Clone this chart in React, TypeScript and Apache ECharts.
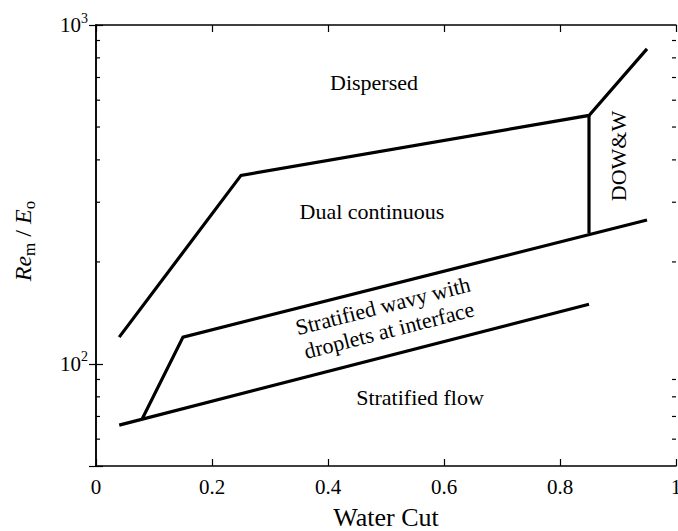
import React, { useEffect, useRef } from "react";
import * as echarts from "echarts";

// Flow-regime boundaries: [water cut, Re_m / E_o]
const upperBoundary: [number, number][] = [
  [0.04, 120],
  [0.25, 360],
  [0.85, 541],
  [0.95, 850],
];
const dowwBoundary: [number, number][] = [
  [0.85, 541],
  [0.85, 243],
];
const wavyBoundary: [number, number][] = [
  [0.08, 69],
  [0.15, 120],
  [0.95, 266],
];
const stratifiedBoundary: [number, number][] = [
  [0.04, 66],
  [0.85, 150],
];

// Log-axis minor tick positions
const minorTicks = [60, 70, 80, 90, 200, 300, 400, 500, 600, 700, 800, 900];

const xTicks = [0, 0.2, 0.4, 0.6, 0.8, 1];
const yDecades = [100, 1000];

const SERIF = "Liberation Serif";

export default function App() {
  const ref = useRef<HTMLDivElement>(null);

  useEffect(() => {
    if (!ref.current) return;
    const chart = echarts.init(ref.current, undefined, { renderer: "svg" });

    const lineSeries = (data: [number, number][]) => ({
      type: "line",
      data,
      symbol: "none",
      silent: true,
      lineStyle: { color: "#000", width: 3.2, join: "miter" },
    });

    const axisLine = { show: true, lineStyle: { color: "#000", width: 1.5 } };
    const tick = { inside: true, length: 7, lineStyle: { color: "#000", width: 1.2 } };

    const regionText = (text: string, x: number, y: number, rotation = 0, extra: any = {}) => ({
      type: "text",
      x,
      y,
      rotation,
      style: {
        text,
        fontFamily: SERIF,
        fontSize: 22,
        fill: "#000",
        align: "center",
        verticalAlign: "middle",
        ...extra,
      },
    });

    chart.setOption({
      animation: false,
      backgroundColor: "#fff",
      textStyle: { fontFamily: SERIF },
      grid: { left: 96, right: 2, top: 25, bottom: 65, outerBoundsMode: "none", containLabel: false },
      xAxis: [
        {
          type: "value",
          position: "bottom",
          min: 0,
          max: 1,
          interval: 0.2,
          axisLine,
          splitLine: { show: false },
          axisTick: tick,
          axisLabel: {
            color: "#000",
            fontFamily: SERIF,
            fontSize: 21,
            margin: 10,
            formatter: (v: number) =>
              xTicks.includes(v) ? (v === 0 || v === 1 ? String(v) : v.toFixed(1)) : "",
          },
          name: "Water Cut",
          nameLocation: "middle",
          nameGap: 38,
          nameTextStyle: { color: "#000", fontFamily: SERIF, fontSize: 26 },
        },
        {
          type: "value",
          position: "top",
          min: 0,
          max: 1,
          interval: 0.2,
          axisLine,
          splitLine: { show: false },
          axisTick: tick,
          axisLabel: { show: false },
        },
      ],
      yAxis: [
        {
          type: "log",
          logBase: 10,
          position: "left",
          min: 50,
          max: 1000,
          axisLine,
          splitLine: { show: false },
          axisTick: tick,
          axisLabel: {
            color: "#000",
            fontFamily: SERIF,
            margin: 8,
            formatter: (v: number) => {
              const d = yDecades.indexOf(Math.round(v));
              return d >= 0 ? `{b|10}{s|${Math.round(Math.log10(yDecades[d]))}}` : "";
            },
            rich: {
              b: { fontFamily: SERIF, fontSize: 21, color: "#000", lineHeight: 28 },
              s: { fontFamily: SERIF, fontSize: 14, color: "#000", verticalAlign: "top", lineHeight: 14 },
            },
          },
        },
        {
          type: "log",
          logBase: 10,
          position: "right",
          min: 50,
          max: 1000,
          axisLine,
          splitLine: { show: false },
          axisTick: tick,
          axisLabel: { show: false },
        },
      ],
      series: [
        lineSeries(upperBoundary),
        lineSeries(dowwBoundary),
        lineSeries(wavyBoundary),
        lineSeries(stratifiedBoundary),
        {
          type: "custom",
          silent: true,
          clip: false,
          z: 5,
          data: minorTicks.map((v) => [0, v]),
          renderItem: (params: any, api: any) => {
            const pt = api.coord([0, api.value(1)]);
            const cs = params.coordSys;
            return {
              type: "group",
              children: [
                {
                  type: "line",
                  shape: { x1: cs.x, y1: pt[1], x2: cs.x + 4, y2: pt[1] },
                  style: { stroke: "#000", lineWidth: 1.2 },
                },
                {
                  type: "line",
                  shape: { x1: cs.x + cs.width, y1: pt[1], x2: cs.x + cs.width - 4, y2: pt[1] },
                  style: { stroke: "#000", lineWidth: 1.2 },
                },
              ],
            };
          },
        },
      ],
      graphic: [
        {
          type: "text",
          x: 23,
          y: 241,
          rotation: Math.PI / 2,
          style: {
            text: "{i|Re}{sub|m}{n| / }{i|E}{sub|o}",
            align: "center",
            verticalAlign: "middle",
            rich: {
              i: { fontFamily: SERIF, fontStyle: "italic", fontSize: 24, fill: "#000", lineHeight: 30 },
              n: { fontFamily: SERIF, fontSize: 24, fill: "#000", lineHeight: 30 },
              sub: { fontFamily: SERIF, fontSize: 17, fill: "#000", verticalAlign: "bottom", lineHeight: 17 },
            },
          },
        },
        regionText("Dispersed", 374, 82),
        regionText("Dual continuous", 372, 211),
        regionText("Stratified wavy with\ndroplets at interface", 386, 318, 0.25, { lineHeight: 25 }),
        regionText("Stratified flow", 420, 397),
        regionText("DOW&W", 618, 156, Math.PI / 2),
      ],
    });

    return () => chart.dispose();
  }, []);

  return <div ref={ref} style={{ width: 678, height: 531, position: "absolute", left: 0, top: 0 }} />;
}
